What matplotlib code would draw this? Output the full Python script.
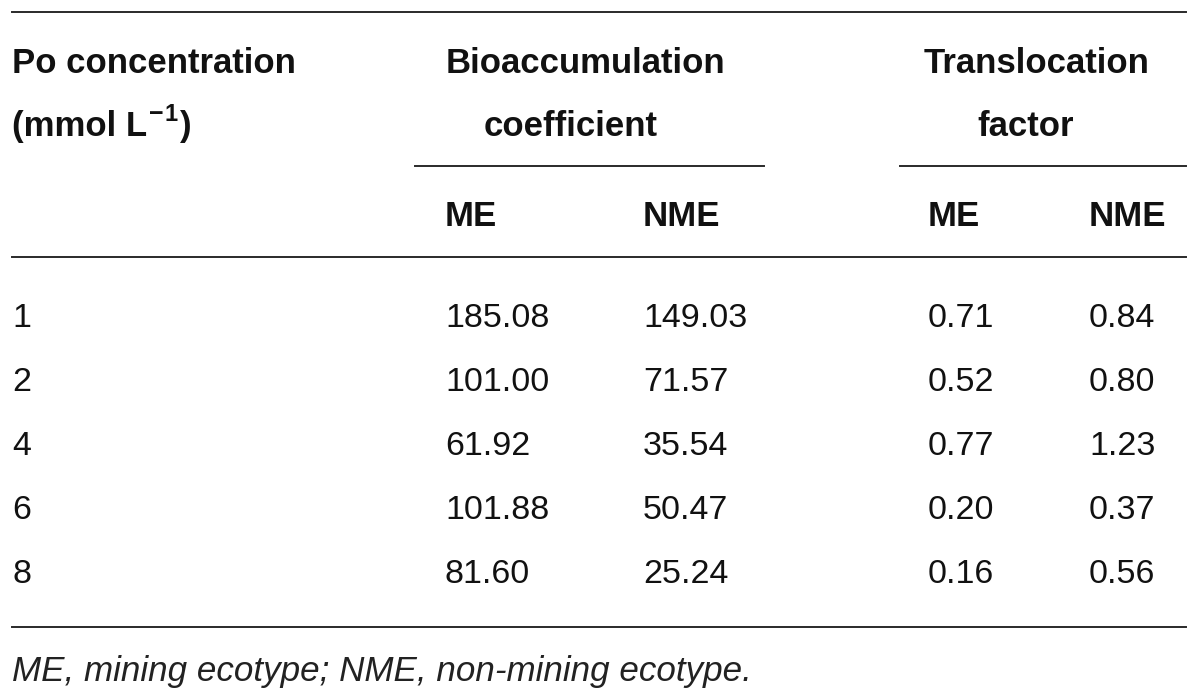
import matplotlib
matplotlib.use('Agg')
import matplotlib.pyplot as plt

plt.rcParams['font.family'] = ['Liberation Sans', 'DejaVu Sans']

# table content
concentrations = ['1', '2', '4', '6', '8']
bac_me = ['185.08', '101.00', '61.92', '101.88', '81.60']
bac_nme = ['149.03', '71.57', '35.54', '50.47', '25.24']
tf_me = ['0.71', '0.52', '0.77', '0.20', '0.16']
tf_nme = ['0.84', '0.80', '1.23', '0.37', '0.56']
sub_headers = ['ME', 'NME', 'ME', 'NME']
footnote = 'ME, mining ecotype; NME, non-mining ecotype.'

INK = '#111111'
RULE = '#2a2a2a'
FS = 25

fig = plt.figure(figsize=(12, 7), dpi=100)
ax = fig.add_axes([0, 0, 1, 1])
ax.set_xlim(0, 1200)
ax.set_ylim(700, 0)
ax.axis('off')
renderer = fig.canvas.get_renderer()


def right_edge(t):
    # right end of a text object in data (pixel) units
    bb = t.get_window_extent(renderer=renderer)
    return ax.transData.inverted().transform((bb.x1, bb.y0))[0]


# rules
ax.plot([12, 1186], [12, 12], color=RULE, lw=1.4)
ax.plot([415, 764], [166, 166], color=RULE, lw=1.4)
ax.plot([900, 1186], [166, 166], color=RULE, lw=1.4)
ax.plot([12, 1186], [257, 257], color=RULE, lw=1.4)
ax.plot([12, 1186], [627, 627], color=RULE, lw=1.4)

# headers
bold = dict(fontweight='bold', color=INK, va='baseline')
ax.text(12, 73, 'Po concentration', ha='left', fontsize=FS, **bold)
t = ax.text(12, 136, '(mmol L', ha='left', fontsize=FS, **bold)
x = right_edge(t) + 2
t = ax.text(x, 121, '\u2212', ha='left', fontsize=18, **bold)
x = right_edge(t) + 1
t = ax.text(x, 121, '1', ha='left', fontsize=17, **bold)
x = right_edge(t) + 2
ax.text(x, 136, ')', ha='left', fontsize=FS, **bold)

ax.text(585, 73, 'Bioaccumulation', ha='center', fontsize=FS, **bold)
ax.text(571, 136, 'coefficient', ha='center', fontsize=FS, **bold)
ax.text(1037, 73, 'Translocation', ha='center', fontsize=FS, **bold)
ax.text(1026, 136, 'factor', ha='center', fontsize=FS, **bold)

col_x = [12, 445, 643, 928, 1089]
for cx, label in zip(col_x[1:], sub_headers):
    ax.text(cx, 226, label, ha='left', fontsize=FS, **bold)

# body
body = dict(fontsize=24.5, color=INK, va='baseline', ha='left')
columns = [concentrations, bac_me, bac_nme, tf_me, tf_nme]
row_y0, row_step = 327, 64
for j, col in enumerate(columns):
    for i, val in enumerate(col):
        ax.text(col_x[j], row_y0 + i * row_step, val, **body)

ax.text(12, 681, footnote, fontsize=25.2, style='italic', color='#222222',
        va='baseline', ha='left')

fig.savefig('out.png', dpi=100)
